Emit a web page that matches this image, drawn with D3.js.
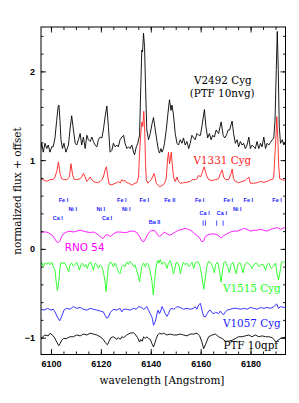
<!DOCTYPE html>
<html>
<head>
<meta charset="utf-8">
<script src="https://cdn.jsdelivr.net/npm/d3@7/dist/d3.min.js"></script>
<style>
body { margin: 0; background: #fff; }
</style>
</head>
<body>
<div id="chart"></div>
<script>
// spectra: [wavelength (A), normalized flux + offset]
var v2492 = [[6096.0,1.13],[6096.3,1.19],[6096.9,1.09],[6097.6,1.19],[6098.3,1.13],[6098.9,1.17],[6099.6,1.09],[6100.3,1.15],[6100.9,1.15],[6101.6,1.25],
  [6102.3,1.45],[6102.9,1.61],[6103.2,1.62],[6103.6,1.45],[6104.0,1.23],[6104.6,1.13],[6105.2,1.19],[6106.0,1.09],[6107.0,1.17],[6107.6,1.34],
  [6108.3,1.50],[6109.0,1.34],[6109.7,1.19],[6110.3,1.17],[6111.0,1.23],[6111.7,1.30],[6112.3,1.17],[6113.0,1.26],[6113.7,1.13],[6114.4,1.28],
  [6115.0,1.23],[6115.7,1.21],[6116.4,1.26],[6117.0,1.21],[6117.7,1.17],[6118.4,1.15],[6119.0,1.23],[6119.7,1.26],[6120.4,1.25],[6121.0,1.34],
  [6121.7,1.49],[6122.4,1.61],[6123.0,1.38],[6123.7,1.09],[6124.4,1.11],[6125.0,1.19],[6125.7,1.15],[6126.4,1.17],[6127.0,1.15],[6127.7,1.23],
  [6128.4,1.26],[6129.1,1.28],[6129.7,1.19],[6130.4,1.13],[6131.1,1.15],[6131.7,1.13],[6132.4,1.17],[6133.1,1.09],[6133.5,1.06],[6134.2,1.15],
  [6134.8,1.19],[6135.5,1.28],[6136.0,1.83],[6136.4,2.24],[6136.7,2.22],[6137.1,2.43],[6137.5,2.28],[6137.9,1.83],[6138.4,1.34],[6139.1,1.23],
  [6139.8,1.30],[6140.5,1.41],[6141.1,1.48],[6141.8,1.34],[6142.5,1.21],[6143.1,1.11],[6143.5,1.08],[6144.1,1.13],[6144.5,1.09],[6145.1,1.13],
  [6145.5,1.19],[6146.2,1.34],[6146.9,1.53],[6147.5,1.68],[6148.1,1.56],[6148.5,1.62],[6149.1,1.51],[6149.8,1.30],[6150.5,1.19],[6151.1,1.17],
  [6151.8,1.23],[6152.5,1.19],[6153.1,1.25],[6153.8,1.17],[6154.5,1.21],[6155.2,1.13],[6155.8,1.19],[6156.5,1.28],[6157.2,1.25],[6157.8,1.23],
  [6158.5,1.30],[6159.2,1.28],[6159.9,1.28],[6160.5,1.38],[6161.5,1.57],[6162.1,1.38],[6162.8,1.25],[6163.5,1.30],[6164.2,1.23],[6164.8,1.28],
  [6165.5,1.26],[6166.2,1.34],[6167.2,1.30],[6168.2,1.43],[6169.0,1.28],[6169.6,1.25],[6170.3,1.28],[6171.0,1.34],[6171.6,1.34],[6172.6,1.44],
  [6173.2,1.30],[6173.9,1.19],[6174.6,1.23],[6175.2,1.15],[6175.9,1.21],[6176.6,1.17],[6177.2,1.19],[6177.9,1.13],[6178.6,1.17],[6179.3,1.26],
  [6179.9,1.13],[6180.6,1.17],[6181.3,1.15],[6181.9,1.13],[6182.6,1.21],[6183.3,1.13],[6184.0,1.19],[6184.6,1.15],[6185.3,1.26],[6186.0,1.13],
  [6186.6,1.19],[6187.3,1.17],[6188.0,1.20],[6188.7,1.23],[6189.3,1.25],[6189.8,1.45],[6190.3,2.02],[6190.7,2.45],[6191.1,2.02],[6191.5,1.38],
  [6192.0,1.19],[6192.7,1.23],[6193.3,1.17],[6194.0,1.21]];

var v1331 = [[6096.0,0.78],[6096.9,0.78],[6098.3,0.76],[6099.6,0.78],[6100.9,0.78],[6101.6,0.81],[6102.3,0.87],[6103.0,0.98],[6103.6,0.85],[6104.3,0.79],
  [6105.0,0.78],[6106.3,0.78],[6107.4,0.81],[6108.0,0.96],[6108.7,0.83],[6109.4,0.78],[6110.3,0.78],[6111.7,0.79],[6112.3,0.81],[6113.0,0.85],
  [6113.7,0.81],[6114.4,0.76],[6115.0,0.78],[6115.7,0.81],[6116.4,0.78],[6117.0,0.76],[6118.4,0.745],[6119.7,0.76],[6120.4,0.78],[6121.0,0.81],
  [6121.7,0.89],[6122.2,0.925],[6122.8,0.81],[6123.3,0.73],[6124.4,0.72],[6125.7,0.74],[6126.4,0.745],[6127.0,0.76],[6127.7,0.74],[6128.4,0.78],
  [6129.1,0.765],[6129.7,0.77],[6130.4,0.745],[6131.1,0.74],[6131.7,0.73],[6132.4,0.72],[6133.1,0.73],[6133.7,0.74],[6134.4,0.745],[6135.1,0.81],
  [6135.5,1.08],[6136.0,1.30],[6136.4,1.43],[6136.8,1.38],[6137.2,1.55],[6137.6,1.30],[6137.9,0.96],[6138.2,0.78],[6138.8,0.74],[6139.5,0.76],
  [6140.2,0.78],[6140.7,0.81],[6141.3,0.85],[6141.7,0.81],[6142.2,0.74],[6142.9,0.72],[6143.5,0.70],[6144.2,0.71],[6144.9,0.72],[6145.5,0.74],
  [6146.2,0.79],[6146.7,1.00],[6147.1,1.09],[6147.5,0.96],[6147.8,1.00],[6148.2,1.09],[6148.6,0.96],[6149.1,0.81],[6149.8,0.76],[6150.5,0.81],
  [6151.1,0.76],[6151.8,0.74],[6153.1,0.745],[6154.5,0.75],[6155.8,0.76],[6156.5,0.78],[6157.2,0.78],[6157.8,0.78],[6158.5,0.79],[6159.2,0.83],
  [6159.9,0.81],[6160.5,0.85],[6161.4,0.925],[6162.3,0.83],[6163.2,0.78],[6164.6,0.77],[6165.9,0.78],[6167.2,0.79],[6167.9,0.85],[6168.6,0.89],
  [6169.2,0.81],[6169.9,0.78],[6171.2,0.78],[6172.2,0.85],[6172.6,0.90],[6173.2,0.79],[6173.9,0.76],[6175.2,0.745],[6176.6,0.76],[6177.9,0.77],
  [6179.3,0.81],[6179.9,0.74],[6181.3,0.74],[6182.6,0.745],[6184.0,0.76],[6185.3,0.75],[6186.6,0.76],[6188.0,0.78],[6188.7,0.78],[6189.3,0.81],
  [6189.8,1.08],[6190.3,1.34],[6190.5,1.49],[6190.9,1.26],[6191.3,0.925],[6191.7,0.79],[6192.7,0.78],[6194.0,0.77]];

var rno54 = [[6096.0,0.18],[6096.9,0.19],[6098.3,0.19],[6099.6,0.17],[6100.7,0.15],[6101.6,0.11],[6102.3,0.08],[6102.9,0.07],[6103.6,0.09],[6104.3,0.14],
  [6105.0,0.17],[6106.3,0.19],[6107.6,0.20],[6109.0,0.19],[6110.3,0.20],[6111.7,0.21],[6113.0,0.20],[6114.4,0.19],[6115.7,0.185],[6117.0,0.19],
  [6118.4,0.17],[6119.4,0.15],[6120.4,0.12],[6121.0,0.12],[6121.7,0.15],[6122.4,0.16],[6123.0,0.155],[6123.7,0.14],[6124.4,0.15],[6125.0,0.17],
  [6126.4,0.19],[6127.7,0.19],[6129.1,0.185],[6130.4,0.185],[6131.7,0.20],[6133.1,0.20],[6134.4,0.185],[6135.5,0.14],[6136.4,0.09],[6137.1,0.08],
  [6137.8,0.11],[6138.7,0.16],[6139.8,0.20],[6140.9,0.21],[6141.8,0.20],[6142.8,0.155],[6143.5,0.14],[6144.5,0.16],[6145.4,0.19],[6146.5,0.17],
  [6147.5,0.155],[6148.5,0.165],[6149.8,0.19],[6151.1,0.21],[6152.5,0.22],[6153.8,0.23],[6155.2,0.22],[6156.5,0.20],[6157.5,0.17],[6158.5,0.155],
  [6159.6,0.12],[6160.5,0.08],[6161.2,0.09],[6161.9,0.14],[6163.2,0.16],[6164.6,0.17],[6165.9,0.165],[6167.2,0.15],[6168.2,0.12],[6169.2,0.15],
  [6170.6,0.17],[6171.9,0.19],[6173.2,0.20],[6174.6,0.20],[6175.9,0.21],[6177.2,0.23],[6178.6,0.22],[6179.9,0.20],[6181.3,0.21],[6182.6,0.21],
  [6184.0,0.22],[6185.3,0.21],[6186.6,0.20],[6188.0,0.22],[6189.3,0.23],[6190.7,0.24],[6192.0,0.22],[6193.3,0.24],[6194.0,0.23]];

var v1515 = [[6096.0,-0.18],[6096.3,-0.15],[6096.9,-0.20],[6097.6,-0.16],[6098.3,-0.175],[6098.9,-0.15],[6099.6,-0.18],[6100.3,-0.15],[6100.9,-0.20],[6101.6,-0.24],
  [6102.0,-0.35],[6102.6,-0.47],[6103.1,-0.375],[6103.6,-0.22],[6104.0,-0.15],[6104.7,-0.17],[6105.2,-0.15],[6105.9,-0.18],[6106.6,-0.22],[6107.1,-0.26],
  [6107.6,-0.18],[6108.3,-0.16],[6109.0,-0.195],[6109.7,-0.175],[6110.3,-0.15],[6111.0,-0.20],[6111.4,-0.24],[6112.0,-0.18],[6112.6,-0.16],[6113.3,-0.20],
  [6114.0,-0.175],[6114.6,-0.22],[6115.3,-0.16],[6116.0,-0.15],[6116.6,-0.20],[6117.0,-0.24],[6117.7,-0.16],[6118.4,-0.175],[6119.0,-0.22],[6119.7,-0.18],
  [6120.4,-0.20],[6121.0,-0.26],[6121.7,-0.37],[6122.1,-0.48],[6122.5,-0.35],[6123.0,-0.20],[6123.7,-0.15],[6124.4,-0.16],[6125.0,-0.20],[6125.7,-0.16],
  [6126.4,-0.20],[6127.0,-0.26],[6127.7,-0.28],[6128.4,-0.20],[6129.1,-0.18],[6129.7,-0.20],[6130.4,-0.15],[6131.1,-0.175],[6131.7,-0.14],[6132.4,-0.16],
  [6133.1,-0.20],[6133.7,-0.18],[6134.4,-0.25],[6135.1,-0.315],[6135.5,-0.37],[6136.0,-0.275],[6136.4,-0.20],[6137.1,-0.16],[6137.8,-0.20],[6138.4,-0.16],
  [6139.1,-0.18],[6139.8,-0.26],[6140.5,-0.37],[6141.0,-0.52],[6141.5,-0.37],[6142.1,-0.20],[6142.8,-0.13],[6143.3,-0.16],[6143.8,-0.12],[6144.5,-0.175],
  [6145.1,-0.15],[6145.8,-0.16],[6146.5,-0.22],[6147.1,-0.16],[6147.8,-0.13],[6148.5,-0.20],[6149.1,-0.28],[6149.5,-0.24],[6150.1,-0.16],[6150.7,-0.15],
  [6151.4,-0.20],[6151.9,-0.28],[6152.5,-0.20],[6153.1,-0.15],[6153.8,-0.18],[6154.5,-0.16],[6155.2,-0.20],[6155.8,-0.18],[6156.5,-0.15],[6157.2,-0.22],
  [6157.8,-0.16],[6158.8,-0.14],[6159.6,-0.18],[6160.3,-0.28],[6160.8,-0.37],[6161.2,-0.455],[6161.8,-0.34],[6162.6,-0.18],[6163.2,-0.14],[6164.2,-0.16],
  [6165.0,-0.22],[6165.5,-0.27],[6166.0,-0.175],[6166.8,-0.15],[6167.6,-0.26],[6168.2,-0.375],[6168.7,-0.26],[6169.2,-0.16],[6169.9,-0.14],[6170.8,-0.20],
  [6171.5,-0.27],[6172.2,-0.175],[6173.0,-0.15],[6173.6,-0.22],[6174.3,-0.28],[6174.8,-0.18],[6175.7,-0.15],[6176.3,-0.20],[6177.0,-0.27],[6177.6,-0.18],
  [6178.6,-0.15],[6179.6,-0.18],[6180.6,-0.22],[6181.3,-0.175],[6182.4,-0.16],[6183.3,-0.20],[6184.0,-0.18],[6185.1,-0.175],[6186.0,-0.24],[6186.6,-0.18],
  [6187.3,-0.16],[6188.2,-0.22],[6189.0,-0.20],[6190.0,-0.16],[6190.7,-0.29],[6191.2,-0.35],[6191.8,-0.26],[6192.4,-0.15],[6193.3,-0.145],[6194.0,-0.15]];

var v1057 = [[6096.0,-0.68],[6097.2,-0.69],[6098.7,-0.67],[6100.0,-0.69],[6100.9,-0.68],[6101.6,-0.71],[6102.6,-0.77],[6103.5,-0.81],[6104.0,-0.78],[6104.7,-0.73],
  [6105.2,-0.69],[6106.3,-0.67],[6107.6,-0.68],[6109.0,-0.65],[6110.3,-0.67],[6111.7,-0.66],[6113.0,-0.68],[6114.4,-0.69],[6115.7,-0.67],[6117.0,-0.68],
  [6118.4,-0.69],[6119.7,-0.70],[6121.0,-0.71],[6121.7,-0.75],[6122.4,-0.78],[6123.0,-0.77],[6123.7,-0.72],[6124.4,-0.70],[6125.0,-0.68],[6126.4,-0.69],
  [6127.7,-0.67],[6128.4,-0.71],[6129.1,-0.68],[6130.4,-0.68],[6131.7,-0.69],[6133.1,-0.67],[6134.2,-0.68],[6135.1,-0.65],[6136.4,-0.66],[6137.1,-0.68],
  [6137.8,-0.67],[6138.4,-0.65],[6139.1,-0.69],[6139.8,-0.73],[6140.5,-0.77],[6140.7,-0.80],[6141.1,-0.86],[6141.8,-0.82],[6142.5,-0.73],[6142.9,-0.69],
  [6143.5,-0.73],[6144.1,-0.69],[6144.5,-0.65],[6145.1,-0.68],[6145.8,-0.73],[6146.5,-0.76],[6147.1,-0.73],[6147.8,-0.68],[6148.5,-0.67],[6149.1,-0.68],
  [6149.8,-0.67],[6150.5,-0.65],[6151.8,-0.66],[6153.1,-0.68],[6154.5,-0.67],[6155.8,-0.68],[6157.2,-0.67],[6157.8,-0.65],[6158.5,-0.68],[6159.2,-0.63],
  [6159.9,-0.615],[6160.5,-0.69],[6161.2,-0.76],[6161.9,-0.765],[6162.6,-0.73],[6163.2,-0.70],[6163.9,-0.69],[6164.6,-0.72],[6165.3,-0.73],[6165.9,-0.715],
  [6166.6,-0.72],[6167.2,-0.73],[6167.9,-0.70],[6168.6,-0.73],[6169.2,-0.74],[6169.9,-0.71],[6170.6,-0.69],[6171.9,-0.68],[6173.2,-0.67],[6174.6,-0.67],
  [6175.9,-0.68],[6177.2,-0.67],[6178.6,-0.68],[6179.9,-0.66],[6181.3,-0.67],[6182.6,-0.68],[6184.0,-0.66],[6185.3,-0.67],[6186.6,-0.66],[6188.0,-0.67],
  [6189.3,-0.65],[6190.5,-0.62],[6191.2,-0.67],[6192.0,-0.65],[6193.3,-0.66],[6194.0,-0.66]];

var ptf10qpf = [[6096.0,-1.01],[6096.7,-0.99],[6097.6,-0.97],[6098.9,-0.98],[6099.6,-0.95],[6100.9,-0.98],[6101.6,-1.01],[6102.3,-1.05],[6103.1,-1.09],[6103.6,-1.07],
  [6104.3,-1.03],[6105.0,-1.01],[6106.3,-1.01],[6107.6,-0.99],[6109.0,-0.99],[6110.3,-0.97],[6111.7,-0.98],[6113.0,-0.96],[6114.4,-0.97],[6115.7,-0.95],
  [6117.0,-0.96],[6118.4,-0.97],[6119.7,-0.99],[6121.0,-1.02],[6121.7,-1.055],[6122.6,-1.08],[6123.3,-1.04],[6124.0,-1.00],[6125.0,-0.99],[6126.4,-1.02],
  [6127.0,-1.00],[6127.7,-1.02],[6128.4,-0.99],[6129.1,-1.00],[6130.4,-0.97],[6131.7,-0.95],[6133.1,-0.945],[6133.7,-0.96],[6134.7,-1.00],[6135.5,-1.05],
  [6136.0,-1.02],[6136.6,-1.04],[6137.1,-0.99],[6137.8,-1.01],[6138.4,-0.99],[6139.1,-1.01],[6139.8,-1.02],[6140.5,-1.07],[6141.1,-1.105],[6141.7,-1.055],
  [6142.2,-1.01],[6142.8,-0.97],[6143.5,-0.95],[6144.5,-0.96],[6145.1,-0.95],[6146.5,-0.97],[6147.8,-0.96],[6149.1,-0.97],[6150.5,-0.97],[6151.8,-0.96],
  [6153.1,-0.97],[6154.5,-0.98],[6155.8,-0.96],[6157.2,-0.96],[6158.5,-0.95],[6159.6,-0.98],[6160.5,-1.05],[6161.2,-1.125],[6161.9,-1.08],[6162.6,-1.03],
  [6163.2,-0.99],[6164.6,-0.97],[6165.9,-0.96],[6167.2,-0.99],[6168.6,-1.01],[6169.9,-1.04],[6171.2,-1.04],[6172.6,-1.03],[6173.9,-1.01],[6175.2,-0.99],
  [6176.6,-0.99],[6177.9,-0.98],[6179.3,-0.97],[6180.6,-0.99],[6181.9,-0.97],[6183.3,-0.99],[6184.6,-0.98],[6186.0,-0.99],[6187.3,-0.99],[6188.7,-1.00],
  [6189.3,-1.02],[6190.1,-1.05],[6190.9,-1.03],[6192.0,-1.01],[6193.3,-1.00],[6194.0,-1.00]];

// tick values
var xMajor = [6100, 6120, 6140, 6160, 6180];
var xMinor = [6100,6105,6110,6115,6120,6125,6130,6135,6140,6145,6150,6155,6160,6165,6170,6175,6180,6185,6190];
var yMajor = [-1, 0, 1, 2];
var yMinor = [-1,-0.8,-0.6,-0.4,-0.2,0,0.2,0.4,0.6,0.8,1,1.2,1.4,1.6,1.8,2,2.2,2.4];

// line identifications (name, wavelength, level)
var idNames = ["Fe I","Ni I","Ca I","Ni I","Ca I","Fe I","Ni I","Fe I","Ba II","Fe II","Fe I","Ca I","Ca I","Fe I","Ni I","Fe I","Fe I"];
var idWaves = [6105.0,6108.7,6102.7,6120.0,6122.5,6128.4,6130.2,6137.4,6141.5,6147.6,6159.6,6161.6,6168.5,6171.1,6174.7,6179.1,6190.6];
var idLevels = [0.53,0.43,0.33,0.43,0.33,0.53,0.43,0.53,0.28,0.53,0.53,0.38,0.38,0.53,0.43,0.53,0.53];
var barWaves = [6161.0, 6161.9, 6166.4, 6169.0];

var marginAkse = {top: 27, right: 13.5, bottom: 48.5, left: 41};
var width = 299 - marginAkse.left - marginAkse.right;
var height = 403 - marginAkse.top - marginAkse.bottom;

var serif = "'DejaVu Serif', 'Liberation Serif', serif";

var svg = d3.select("#chart")
    .append("svg")
        .attr("width", 299)
        .attr("height", 403)
        .style("background-color", "white");

var g = svg.append("g")
    .attr("transform", "translate(" + marginAkse.left + "," + marginAkse.top + ")");

var xVerdi = d3.scaleLinear().domain([6096, 6194]).range([0, width]);
var yVerdi = d3.scaleLinear().domain([-1.19, 2.5]).range([height, 0]);

g.append("clipPath").attr("id", "clip")
    .append("rect").attr("width", width).attr("height", height);

// spectra
var spectra = [
    {data: v2492, color: "#000000"},
    {data: v1331, color: "#ff2020"},
    {data: rno54, color: "#ff00ff"},
    {data: v1515, color: "#20ff20"},
    {data: v1057, color: "#2020ff"},
    {data: ptf10qpf, color: "#000000"}
];

var line = d3.line()
    .x(function(d) { return xVerdi(d[0]); })
    .y(function(d) { return yVerdi(d[1]); });

g.append("g").attr("clip-path", "url(#clip)")
    .selectAll("path")
    .data(spectra)
    .enter()
    .append("path")
    .attr("d", function(d) { return line(d.data); })
    .style("fill", "none")
    .style("stroke", function(d) { return d.color; })
    .style("stroke-width", 0.9)
    .style("stroke-linejoin", "round");

// axes, ticks pointing inward on all four sides
function akse(a, size) { return a.tickSizeInner(-size).tickSizeOuter(0); }

g.append("g").attr("transform", "translate(0," + height + ")")
    .call(akse(d3.axisBottom(xVerdi).tickValues(xMinor).tickFormat(""), 3));
g.append("g").attr("class", "xlab").attr("transform", "translate(0," + height + ")")
    .call(akse(d3.axisBottom(xVerdi).tickValues(xMajor).tickFormat(d3.format("d")), 5.5).tickPadding(6));
g.append("g")
    .call(akse(d3.axisTop(xVerdi).tickValues(xMinor).tickFormat(""), 3));
g.append("g")
    .call(akse(d3.axisTop(xVerdi).tickValues(xMajor).tickFormat(""), 5.5));

g.append("g")
    .call(akse(d3.axisLeft(yVerdi).tickValues(yMinor).tickFormat(""), 2.5));
g.append("g").attr("class", "ylab")
    .call(akse(d3.axisLeft(yVerdi).tickValues(yMajor).tickFormat(d3.format("d")), 5).tickPadding(6));
g.append("g").attr("transform", "translate(" + width + ",0)")
    .call(akse(d3.axisRight(yVerdi).tickValues(yMinor).tickFormat(""), 2.5));
g.append("g").attr("transform", "translate(" + width + ",0)")
    .call(akse(d3.axisRight(yVerdi).tickValues(yMajor).tickFormat(""), 5));

g.selectAll(".domain").remove();
g.selectAll(".tick line").style("stroke", "#000").style("stroke-width", 0.9);
g.selectAll(".xlab text, .ylab text")
    .style("font-family", "'Liberation Sans', Arial, sans-serif")
    .style("font-size", "9px")
    .style("font-weight", "bold")
    .style("fill", "#000");

g.append("rect")
    .attr("width", width).attr("height", height)
    .style("fill", "none").style("stroke", "#000").style("stroke-width", 1);

// line identifications
g.selectAll(".ident")
    .data(idNames)
    .enter()
    .append("text")
    .attr("class", "ident")
    .attr("x", function(d, i) { return xVerdi(idWaves[i]); })
    .attr("y", function(d, i) { return yVerdi(idLevels[i]); })
    .attr("text-anchor", "middle")
    .style("font-family", "'Liberation Sans', Arial, sans-serif")
    .style("font-size", "5.5px")
    .style("font-weight", "bold")
    .style("fill", "#2020ff")
    .text(function(d) { return d; });

g.selectAll(".bar")
    .data(barWaves)
    .enter()
    .append("line")
    .attr("x1", function(d) { return xVerdi(d); })
    .attr("x2", function(d) { return xVerdi(d); })
    .attr("y1", yVerdi(0.32))
    .attr("y2", yVerdi(0.26))
    .style("stroke", "#2020ff")
    .style("stroke-width", 0.8);

// star names
var names = ["V2492 Cyg", "(PTF 10nvg)", "V1331 Cyg", "RNO 54", "V1515 Cyg", "V1057 Cyg", "PTF 10qpf"];
var nameWaves = [6168.9, 6168.6, 6168.7, 6113.5, 6180.5, 6180.5, 6180.1];
var nameLevels = [1.857, 1.711, 0.961, -0.02, -0.482, -0.877, -1.13];
var nameColors = ["#000", "#000", "#ff2020", "#ff00ff", "#20ff20", "#2020ff", "#000"];

g.selectAll(".navn")
    .data(names)
    .enter()
    .append("text")
    .attr("class", "navn")
    .attr("x", function(d, i) { return xVerdi(nameWaves[i]); })
    .attr("y", function(d, i) { return yVerdi(nameLevels[i]); })
    .attr("text-anchor", "middle")
    .style("font-family", function(d) { return d == "RNO 54" ? "'DejaVu Sans', sans-serif" : serif; })
    .style("font-size", "10.4px")
    .style("fill", function(d, i) { return nameColors[i]; })
    .text(function(d) { return d; });

// axis titles
svg.append("text")
    .attr("x", 162)
    .attr("y", 384)
    .attr("text-anchor", "middle")
    .style("font-family", serif)
    .style("font-size", "10.5px")
    .text("wavelength [Angstrom]");

svg.append("text")
    .attr("transform", "translate(21," + 191 + ") rotate(-90)")
    .attr("text-anchor", "middle")
    .style("font-family", serif)
    .style("font-size", "10.5px")
    .text("normalized flux + offset");
</script>
</body>
</html>
